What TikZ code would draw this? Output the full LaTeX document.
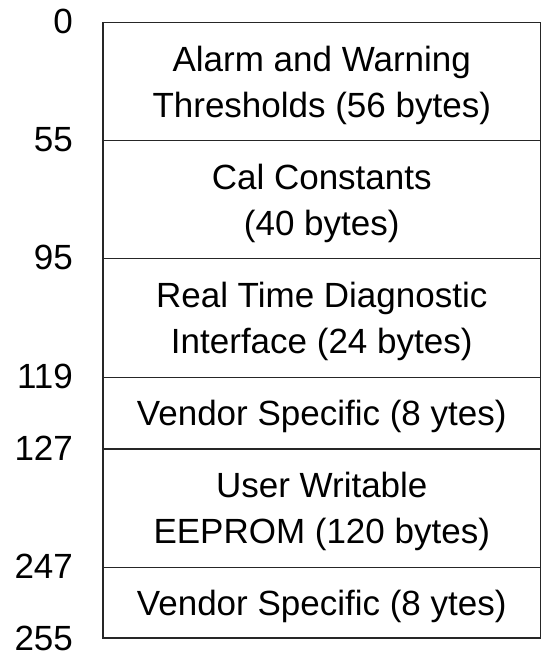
\documentclass[tikz,border=0pt]{standalone}
\usepackage{fontspec}
\setmainfont{Liberation Sans}
\usetikzlibrary{positioning}

\newcommand\Region[5]{
  \node[region,minimum height=#2-#1] (#3) at (321.75,{(#1+#2)/2}) {};
  \node[regiontext] (#3txt) at (#3.center) {#4};
  \node[offset] (#3off) at ([xshift=-29pt] #3.north west) {#5};
}
\tikzstyle{region}=[rectangle,draw=black!85,line width=1.8pt,inner sep=0pt,minimum width=437.5pt]
\tikzstyle{regiontext}=[align=center,inner sep=0pt,yshift=-3.5pt]
\tikzstyle{offset}=[anchor=east,inner sep=0pt]

\begin{document}
\begin{tikzpicture}[x=1pt,y=-1pt,font=\fontsize{35}{46}\selectfont]
  \useasboundingbox (0,0) rectangle (542,657);

  \Region{22.5}{140.5}{alarm}{Alarm and Warning\\Thresholds (56 bytes)}{0}
  \Region{140.5}{258.5}{cal}{Cal Constants\\(40 bytes)}{55}
  \Region{258.5}{377.5}{diag}{Real Time Diagnostic\\Interface (24 bytes)}{95}
  \Region{377.5}{449}{vendA}{Vendor Specific (8 ytes)}{119}
  \Region{449}{567.5}{user}{User Writable\\EEPROM (120 bytes)}{127}
  \Region{567.5}{638}{vendB}{Vendor Specific (8 ytes)}{247}
  \node[offset] (endoff) at ([xshift=-29pt] vendB.south west) {255};
\end{tikzpicture}
\end{document}
